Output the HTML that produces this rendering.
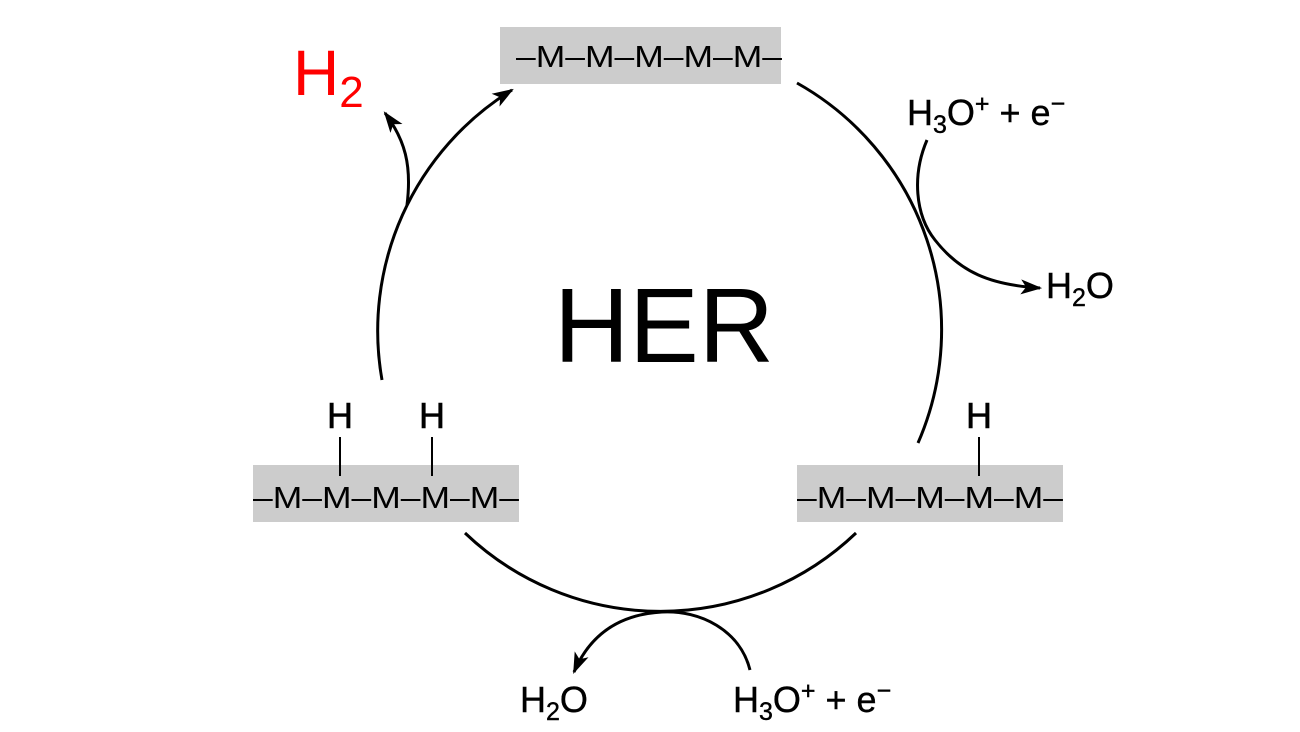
<!DOCTYPE html>
<html><head><style>
html,body{margin:0;padding:0;background:#fff;}
svg{display:block;}
text{font-family:"Liberation Sans",Arial,sans-serif;}
</style></head><body>
<svg width="1300" height="732" viewBox="0 0 1300 732" xmlns="http://www.w3.org/2000/svg">
<defs>
<marker id="ah" viewBox="0 0 20 14" refX="18" refY="7" markerWidth="22" markerHeight="15" markerUnits="userSpaceOnUse" orient="auto">
<path d="M0,0 L20,7 L0,14 L5,7 Z" fill="#000"/>
</marker>
</defs>
<rect x="500" y="27" width="281" height="57" fill="#cccccc"/>
<rect x="253" y="465" width="266" height="57" fill="#cccccc"/>
<rect x="797" y="465" width="266" height="57" fill="#cccccc"/>
<text x="516" y="67" font-size="31" textLength="266" lengthAdjust="spacingAndGlyphs">–M–M–M–M–M–</text>
<text x="253" y="508" font-size="31" textLength="266" lengthAdjust="spacingAndGlyphs">–M–M–M–M–M–</text>
<text x="797" y="508" font-size="31" textLength="266" lengthAdjust="spacingAndGlyphs">–M–M–M–M–M–</text>
<g font-size="36" stroke="#000" stroke-width="0.6">
<text x="340" y="428" text-anchor="middle">H</text>
<text x="432" y="428" text-anchor="middle">H</text>
<text x="979" y="428" text-anchor="middle">H</text>
</g>
<g stroke="#000" stroke-width="2">
<line x1="340" y1="437" x2="340" y2="476"/>
<line x1="432" y1="437" x2="432" y2="476"/>
<line x1="979" y1="437" x2="979" y2="476"/>
</g>
<g fill="none" stroke="#000" stroke-width="3">
<path d="M797,83 A283,283 0 0 1 918,443"/>
<path d="M856,533 A283,283 0 0 1 465,533"/>
<path d="M382,380 A283,283 0 0 1 512,90" marker-end="url(#ah)"/>
<path d="M407,205 C412,165 405,140 385,113" marker-end="url(#ah)"/>
<path d="M927,140 C912,175 915,215 935,240 C960,272 990,285 1040,288" marker-end="url(#ah)"/>
<path d="M750,670 C740,630 700,610 662,612 C625,614 592,630 574,672" marker-end="url(#ah)"/>
</g>
<text x="664" y="362" font-size="106" text-anchor="middle" textLength="220" lengthAdjust="spacingAndGlyphs">HER</text>
<text x="293" y="95" font-size="64" fill="#ff0000">H<tspan font-size="44" dy="12">2</tspan></text>
<g font-size="36" stroke="#000" stroke-width="0.4">
<text x="907" y="125">H<tspan font-size="25" dy="8">3</tspan><tspan dy="-8">O</tspan><tspan font-size="25" dy="-13">+</tspan><tspan dy="13"> + e</tspan><tspan font-size="25" dy="-13">−</tspan></text>
<text x="1046" y="298">H<tspan font-size="25" dy="8">2</tspan><tspan dy="-8">O</tspan></text>
<text x="520" y="712">H<tspan font-size="25" dy="8">2</tspan><tspan dy="-8">O</tspan></text>
<text x="733" y="712">H<tspan font-size="25" dy="8">3</tspan><tspan dy="-8">O</tspan><tspan font-size="25" dy="-13">+</tspan><tspan dy="13"> + e</tspan><tspan font-size="25" dy="-13">−</tspan></text>
</g>
</svg>
</body></html>
